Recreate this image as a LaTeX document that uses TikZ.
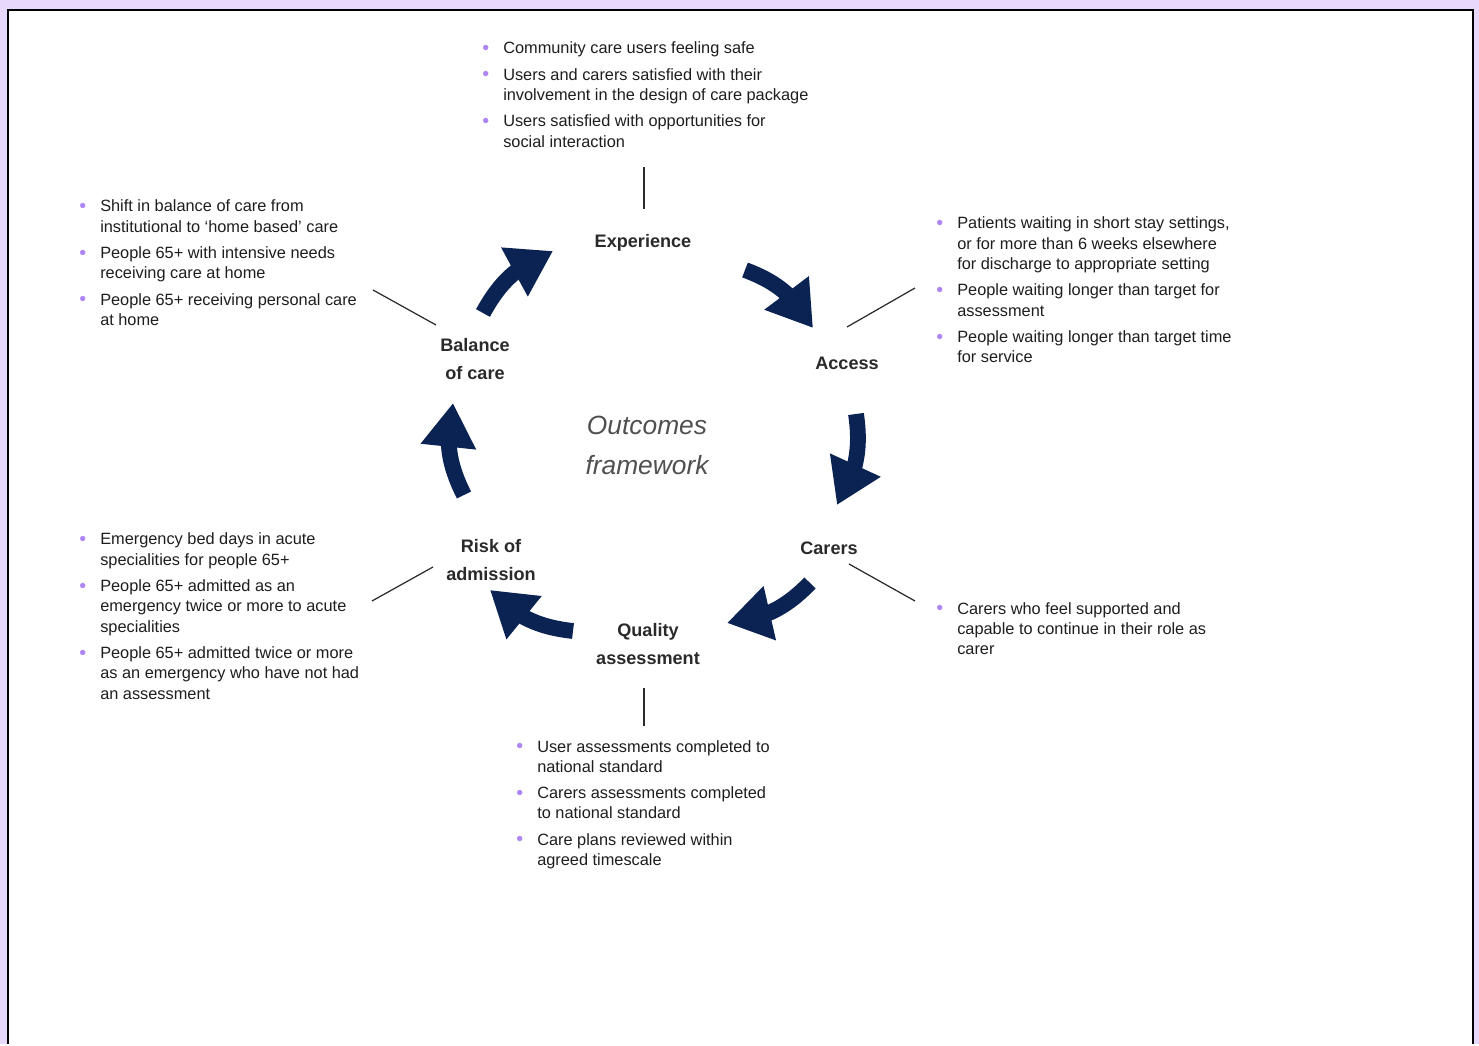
\documentclass[tikz,border=0pt]{standalone}
\usepackage{fontspec}
\setmainfont{Liberation Sans}
\usetikzlibrary{arrows.meta,bending}
\definecolor{lavender}{HTML}{E6D9FB}
\definecolor{bulletc}{HTML}{AE86F5}
\definecolor{navy}{HTML}{0B2352}
\definecolor{textc}{HTML}{1E1E1E}
\definecolor{labelc}{HTML}{2A2A2A}
\definecolor{titlec}{HTML}{505050}
\newcommand{\dotb}{\textcolor{bulletc}{\raisebox{-0.4pt}{\scalebox{1.2}{\textbullet}}}}

\begin{document}
\begin{tikzpicture}[x=0.02cm,y=0.02cm]
	\fill[lavender] (0,0) rectangle (1479,1044);
	\fill[white] (8,0) rectangle (1473,1034);
	\draw[line width=1.4pt] (8,0) -- (8,1034) -- (1473,1034) -- (1473,0);

	\begin{scope}[every node/.style={font=\bfseries\fontsize{10.3pt}{15.9pt}\selectfont,align=center,text=labelc,inner sep=0pt}]
		\node (experience) at (643,801) {Experience};
		\node (access) at (847,681) {Access};
		\node (carers) at (829,496) {Carers};
		\node (quality) at (648,400) {Quality\\assessment};
		\node (risk) at (491,484) {Risk of\\admission};
		\node (balance) at (475,685) {Balance\\of care};
	\end{scope}
	\node [font=\itshape\fontsize{15pt}{22.7pt}\selectfont,align=center,text=titlec,inner sep=0pt] (outcomes) at (647,599) {Outcomes\\framework};

	\begin{scope}[every node/.style={anchor=base west,inner sep=0pt,font=\fontsize{9.3pt}{11.6pt}\selectfont,text=textc}]
		\node (explist) at (482,990) {\begin{tabular}[t]{@{}p{11.9pt}@{}l@{}}
			\dotb & Community care users feeling safe\\[3.3pt]
			\dotb & Users and carers satisfied with their\\
			& involvement in the design of care package\\[3.3pt]
			\dotb & Users satisfied with opportunities for\\
			& social interaction
		\end{tabular}};
		\node (balancelist) at (79,832) {\begin{tabular}[t]{@{}p{11.9pt}@{}l@{}}
			\dotb & Shift in balance of care from\\
			& institutional to ‘home based’ care\\[3.3pt]
			\dotb & People 65+ with intensive needs\\
			& receiving care at home\\[3.3pt]
			\dotb & People 65+ receiving personal care\\
			& at home
		\end{tabular}};
		\node (accesslist) at (936,815) {\begin{tabular}[t]{@{}p{11.9pt}@{}l@{}}
			\dotb & Patients waiting in short stay settings,\\
			& or for more than 6 weeks elsewhere\\
			& for discharge to appropriate setting\\[3.3pt]
			\dotb & People waiting longer than target for\\
			& assessment\\[3.3pt]
			\dotb & People waiting longer than target time\\
			& for service
		\end{tabular}};
		\node (carerslist) at (936,430) {\begin{tabular}[t]{@{}p{11.9pt}@{}l@{}}
			\dotb & Carers who feel supported and\\
			& capable to continue in their role as\\
			& carer
		\end{tabular}};
		\node (risklist) at (79,499) {\begin{tabular}[t]{@{}p{11.9pt}@{}l@{}}
			\dotb & Emergency bed days in acute\\
			& specialities for people 65+\\[3.3pt]
			\dotb & People 65+ admitted as an\\
			& emergency twice or more to acute\\
			& specialities\\[3.3pt]
			\dotb & People 65+ admitted twice or more\\
			& as an emergency who have not had\\
			& an assessment
		\end{tabular}};
		\node (qualitylist) at (516,292) {\begin{tabular}[t]{@{}p{11.9pt}@{}l@{}}
			\dotb & User assessments completed to\\
			& national standard\\[3.3pt]
			\dotb & Carers assessments completed\\
			& to national standard\\[3.3pt]
			\dotb & Care plans reviewed within\\
			& agreed timescale
		\end{tabular}};
	\end{scope}

	\coordinate (expa) at (644,877);
	\coordinate (expb) at (644,835);
	\coordinate (bala) at (373,754);
	\coordinate (balb) at (436,719);
	\coordinate (acca) at (847,717);
	\coordinate (accb) at (915,756);
	\coordinate (cara) at (849,480);
	\coordinate (carb) at (915,443);
	\coordinate (riska) at (372,443);
	\coordinate (riskb) at (433,477);
	\coordinate (quala) at (644,356);
	\coordinate (qualb) at (644,318);

	\begin{scope}[every edge/.style={draw=labelc,line width=0.7pt}]
		\path (expa) edge (expb)
			(bala) edge (balb)
			(acca) edge (accb)
			(cara) edge (carb)
			(riska) edge (riskb)
			(quala) edge (qualb);
	\end{scope}

	\coordinate (balance to) at (483,731);
	\coordinate (experience in) at (553,793);
	\coordinate (experience to) at (745,774);
	\coordinate (access in) at (813,716);
	\coordinate (access to) at (856,630);
	\coordinate (carers in) at (837,539);
	\coordinate (carers to) at (810,461);
	\coordinate (quality in) at (727,421);
	\coordinate (quality to) at (573,413);
	\coordinate (risk in) at (490,454);
	\coordinate (risk to) at (464,549);
	\coordinate (balance in) at (453,641);

	\begin{scope}[every edge/.style={draw=navy,line width=9pt,-{Triangle[length=25pt,width=30pt]}}]
		\path (balance to) edge [bend left=20] (experience in)
			(experience to) edge [bend left=20] (access in)
			(access to) edge [bend left=20] (carers in)
			(carers to) edge [bend left=20] (quality in)
			(quality to) edge [bend left=20] (risk in)
			(risk to) edge [bend left=20] (balance in);
	\end{scope}
\end{tikzpicture}
\end{document}
